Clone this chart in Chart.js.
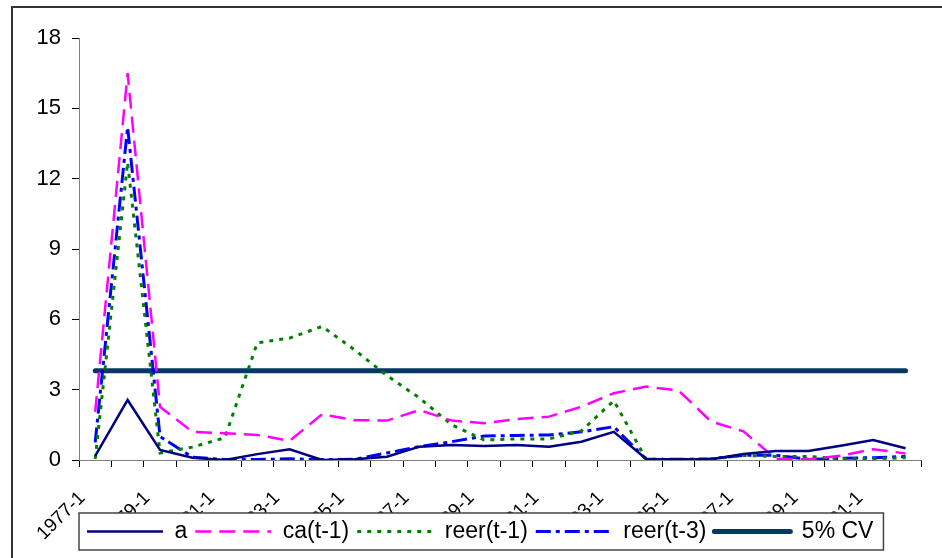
<!DOCTYPE html>
<html>
<head>
<meta charset="utf-8">
<script src="https://cdn.jsdelivr.net/npm/chart.js@4"></script>
<style>
  html, body { margin: 0; padding: 0; background: #fff; }
  #wrap { width: 942px; height: 558px; }
</style>
</head>
<body>
<div id="wrap"><canvas id="chart"></canvas></div>
<script>
// yearly observations, 1977-1 .. 2002-1
const categories = ['1977-1','1978-1','1979-1','1980-1','1981-1','1982-1','1983-1','1984-1','1985-1','1986-1',
  '1987-1','1988-1','1989-1','1990-1','1991-1','1992-1','1993-1','1994-1','1995-1','1996-1',
  '1997-1','1998-1','1999-1','2000-1','2001-1','2002-1'];

const aValues = [0.18, 2.56, 0.43, 0.1, 0.0, 0.25, 0.46, 0.0, 0.03, 0.14, 0.57, 0.64, 0.6, 0.64, 0.57, 0.78, 1.2,
  0.04, 0.03, 0.03, 0.26, 0.38, 0.38, 0.61, 0.85, 0.5];
const caValues = [2.05, 16.5, 2.27, 1.2, 1.14, 1.07, 0.82, 1.95, 1.7, 1.68, 2.13, 1.68, 1.57, 1.74, 1.85, 2.27,
  2.85, 3.13, 2.96, 1.64, 1.22, 0.05, 0.03, 0.18, 0.46, 0.28];
const reer1Values = [0.05, 12.7, 0.3, 0.55, 0.95, 5.0, 5.2, 5.7, 4.7, 3.6, 2.65, 1.5, 0.85, 0.9, 0.9, 1.24,
  2.53, 0.03, 0.02, 0.03, 0.2, 0.15, 0.15, 0.05, 0.05, 0.1];
const reer3Values = [0.75, 14.2, 1.0, 0.12, 0.02, 0.02, 0.05, 0.02, 0.03, 0.3, 0.57, 0.78, 1.02, 1.05, 1.07, 1.2,
  1.42, 0.03, 0.03, 0.05, 0.2, 0.2, 0.03, 0.07, 0.1, 0.15];
const cvValue = 3.81;
const cvValues = categories.map(() => cvValue);

const yTicks = [0, 3, 6, 9, 12, 15, 18];

const FONT = "'Liberation Sans', Arial, sans-serif";
const LEGEND_TOP = 512;

// white page, outer frame, and the legend moved down over the tick labels with a box round it
const framePlugin = {
  id: 'frame',
  afterLayout(chart) {
    const lg = chart.legend;
    lg.top = LEGEND_TOP;
    lg.bottom = LEGEND_TOP + 41;
    lg.height = 41;
  },
  beforeDraw(chart) {
    const ctx = chart.ctx;
    ctx.save();
    ctx.fillStyle = '#fff';
    ctx.fillRect(0, 0, chart.width, chart.height);
    ctx.restore();
  },
  afterDraw(chart) {
    const ctx = chart.ctx;
    ctx.save();
    ctx.strokeStyle = '#333';
    ctx.lineWidth = 2;
    ctx.strokeRect(12, 7, 1000, 700);

    const lg = chart.legend;
    const hb = lg.legendHitBoxes;
    const last = hb[hb.length - 1];
    const x0 = hb[0].left - 8;
    const x1 = last.left + last.width + 10;
    const y0 = hb[0].top - 7;
    const y1 = hb[0].top + hb[0].height + 7;
    ctx.fillStyle = '#fff';
    ctx.fillRect(x0, y0, x1 - x0, y1 - y0);
    ctx.strokeStyle = '#444';
    ctx.lineWidth = 1.5;
    ctx.strokeRect(x0, y0, x1 - x0, y1 - y0);
    ctx.restore();
    lg.draw();
  }
};

new Chart(document.getElementById('chart'), {
  type: 'line',
  data: {
    labels: categories,
    datasets: [
      { label: 'a', data: aValues, borderColor: '#000080', backgroundColor: '#000080',
        borderWidth: 2.5 },
      { label: 'ca(t-1)', data: caValues, borderColor: '#ff00ff', backgroundColor: '#ff00ff',
        borderWidth: 2.5, borderDash: [16, 8] },
      { label: 'reer(t-1)', data: reer1Values, borderColor: '#008000', backgroundColor: '#008000',
        borderWidth: 3, borderDash: [4, 6] },
      { label: 'reer(t-3)', data: reer3Values, borderColor: '#0000ff', backgroundColor: '#0000ff',
        borderWidth: 3, borderDash: [15, 5, 4, 5] },
      { label: '5% CV', data: cvValues, borderColor: '#063766', backgroundColor: '#063766',
        borderWidth: 5, borderCapStyle: 'round' }
    ]
  },
  options: {
    responsive: true,
    maintainAspectRatio: false,
    animation: false,
    events: [],
    elements: { point: { radius: 0 }, line: { tension: 0 } },
    layout: { padding: { left: 0, right: 17, top: 38, bottom: 5 } },
    scales: {
      x: {
        offset: true,
        grid: { offset: true, drawOnChartArea: false, color: '#000', tickLength: 7 },
        border: { color: '#808080', width: 1 },
        ticks: {
          autoSkip: false, minRotation: 45, maxRotation: 45, padding: 20, labelOffset: -13,
          color: '#000', font: { family: FONT, size: 19 },
          callback: (v, i) => (i % 2 === 0 ? categories[i] : '')
        },
        afterFit: (s) => { s.height = 92; }
      },
      y: {
        min: 0, max: 18,
        afterBuildTicks: (s) => { s.ticks = yTicks.map(v => ({ value: v })); },
        grid: { drawOnChartArea: false, color: '#000', tickLength: 7 },
        border: { color: '#808080', width: 1 },
        ticks: { color: '#000', padding: 11, font: { family: FONT, size: 22 } },
        afterFit: (s) => { s.width = 79; }
      }
    },
    plugins: {
      legend: {
        position: 'bottom',
        align: 'start',
        fullSize: false,
        maxHeight: 1,
        labels: {
          usePointStyle: true, pointStyle: 'line', pointStyleWidth: 76,
          padding: 8, color: '#000', font: { family: FONT, size: 23 },
          // point-style legend items lose the dash, so copy it back from the dataset
          generateLabels(chart) {
            const items = Chart.defaults.plugins.legend.labels.generateLabels(chart);
            return items.map(item => {
              const ds = chart.data.datasets[item.datasetIndex];
              item.lineDash = ds.borderDash || [];
              item.lineWidth = ds.borderWidth;
              item.lineCap = ds.borderCapStyle || 'butt';
              return item;
            });
          }
        }
      },
      tooltip: { enabled: false }
    }
  },
  plugins: [framePlugin]
});
</script>
</body>
</html>
